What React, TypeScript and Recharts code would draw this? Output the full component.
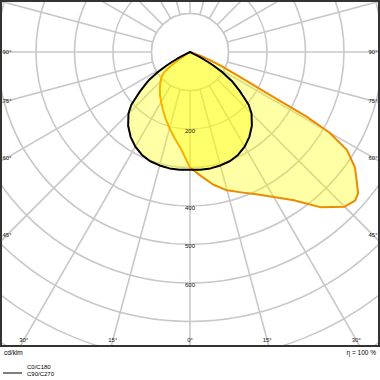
import { RadarChart, Radar, PolarGrid, PolarAngleAxis, PolarRadiusAxis } from "recharts";

const CX = 190;
const CY = 52;
const OUTER_R = 346.5;
const R_MAX = 900;
const FONT = '"Liberation Sans", Arial, sans-serif';

// angle around the diagram: 0 = straight down (gamma 0), 90 = right, 270 = left
const angles = [
  0, 5, 10, 15, 20, 25, 30, 35, 40, 45, 48, 50, 52, 55, 58, 60, 61, 62, 63, 64, 66, 68, 70, 75,
  180,
  285, 290, 292, 294, 296, 297, 298, 299, 300, 302, 304, 305, 306, 308, 310, 312, 315,
  320, 325, 330, 335, 340, 345, 350, 355,
];

// cd/klm, orange curve
const c0c180 = [
  300, 323, 350, 372, 388, 408, 435, 470, 526, 568, 577, 570, 550, 523, 481, 418, 345, 215, 160, 128, 90, 56, 30, 0,
  0,
  0, 0, 0, 0, 0, 0, 0, 0, 0, 8, 30, 48, 65, 86, 94, 100, 108,
  122, 136, 150, 166, 185, 205, 228, 255,
];

// cd/klm, black curve
const c90c270 = [
  306, 307, 307, 305, 302, 295, 284, 269, 250, 226, 205, 182, 163, 135, 100, 70, 55, 40, 25, 12, 0, 0, 0, 0,
  0,
  0, 0, 0, 0, 12, 25, 40, 55, 70, 100, 125, 135, 143, 163, 182, 205, 226,
  250, 269, 284, 295, 302, 305, 307, 307,
];

const angleTicks = [0, 15, 30, 45, 60, 75, 90, 105, 120, 135, 150, 165, 180, 195, 210, 225, 240, 255, 270, 285, 300, 315, 330, 345];
const radiusTicks = [0, 100, 200, 300, 400, 500, 600, 700, 800, 900];
const radiusLabels = [200, 400, 500, 600];

const data = angles.map((angle, i) => ({ angle, c0: c0c180[i], c90: c90c270[i] }));

const AngleTick = (props: any) => {
  const a = props.payload?.value;
  const gamma = a <= 180 ? a : 360 - a;
  if (gamma > 90) return <g />;
  const rad = ((a - 90) * Math.PI) / 180;
  const dx = Math.cos(rad);
  const dy = -Math.sin(rad);
  let x: number;
  let y: number;
  const sideX = dx > 0 ? 373 : 7;
  const tSide = Math.abs(dx) > 1e-6 ? (sideX - CX) / dx : Infinity;
  const tBottom = dy > 1e-6 ? (340 - CY) / dy : Infinity;
  if (tSide < tBottom) {
    x = sideX;
    y = CY + tSide * dy;
  } else {
    x = CX + tBottom * dx;
    y = 340;
  }
  return (
    <text x={x} y={y} fontSize={6} fontFamily={FONT} fill="#111" textAnchor="middle" dominantBaseline="central">
      {`${gamma}°`}
    </text>
  );
};

const RadiusTick = (props: any) => {
  const v = props.payload?.value;
  if (!radiusLabels.includes(v)) return <g />;
  return (
    <text x={props.x} y={props.y + 1.5} fontSize={6} fontFamily={FONT} fill="#111" textAnchor="middle" dominantBaseline="central">
      {v}
    </text>
  );
};

export default function App() {
  return (
    <div style={{ position: "absolute", left: 0, top: 0, width: 380, height: 380, background: "#fff", fontFamily: FONT }}>
      <div style={{ position: "absolute", left: 0, top: 0, width: 380, height: 347, overflow: "hidden" }}>
        <RadarChart
          width={380}
          height={347}
          data={data}
          cx={CX}
          cy={CY}
          outerRadius={OUTER_R}
          startAngle={-90}
          endAngle={270}
          margin={{ top: 0, right: 0, bottom: 0, left: 0 }}
        >
          <PolarGrid gridType="circle" stroke="#c8c8c8" strokeWidth={1.6} />
          <circle cx={CX} cy={CY} r={(OUTER_R * 100) / R_MAX} fill="#fff" stroke="#c8c8c8" strokeWidth={1.6} />
          <Radar
            dataKey="c0"
            stroke="#ee8a00"
            strokeWidth={2}
            strokeLinejoin="round"
            fill="#ffff00"
            fillOpacity={0.35}
            dot={false}
            activeDot={false}
            isAnimationActive={false}
          />
          <Radar
            dataKey="c90"
            stroke="#000"
            strokeWidth={2}
            strokeLinejoin="round"
            fill="#ffff00"
            fillOpacity={0.35}
            dot={false}
            activeDot={false}
            isAnimationActive={false}
          />
          <PolarAngleAxis dataKey="angle" type="number" domain={[0, 360]} ticks={angleTicks} tick={AngleTick} axisLine={false} tickLine={false} />
          <PolarRadiusAxis angle={-90} type="number" domain={[0, R_MAX]} ticks={radiusTicks} tick={RadiusTick} axisLine={false} tickLine={false} />
        </RadarChart>
      </div>
      <svg width={380} height={380} style={{ position: "absolute", left: 0, top: 0, pointerEvents: "none" }}>
        <rect x={1} y={1} width={378} height={345} fill="none" stroke="#333" strokeWidth={2} />
        <text x={4} y={355} fontSize={6.5} fontFamily={FONT} fill="#000">cd/klm</text>
        <text x={376} y={355} fontSize={6.5} fontFamily={FONT} fill="#000" textAnchor="end">η = 100 %</text>
        <text x={27} y={369} fontSize={6} fontFamily={FONT} fill="#000">C0/C180</text>
        <line x1={3} x2={22} y1={373} y2={373} stroke="#000" strokeWidth={1} />
        <text x={27} y={375.5} fontSize={6} fontFamily={FONT} fill="#000">C90/C270</text>
      </svg>
    </div>
  );
}
